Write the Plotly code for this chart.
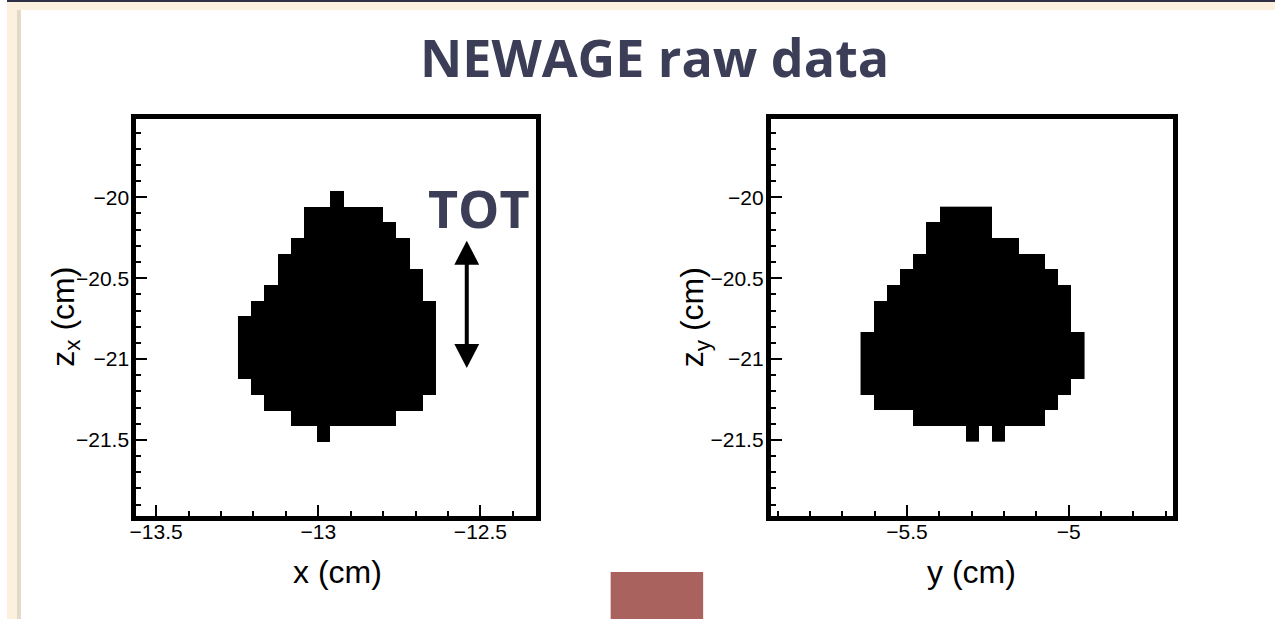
import plotly.graph_objects as go

W, H = 1275, 619

# ---------------- data: hit patterns (rows from top = highest z) ----------------
XZ_ROWS = [
    ".......#.......",
    ".....######....",
    ".....#######...",
    "....#########..",
    "...##########..",
    "...###########.",
    "..############.",
    ".##############",
    "###############",
    "###############",
    "###############",
    "###############",
    ".##############",
    "..############.",
    "....########...",
    "......#........",
]
YZ_ROWS = [
    "......####.......",
    ".....#####.......",
    ".....#######.....",
    "....##########...",
    "...############..",
    "..##############.",
    ".###############.",
    ".###############.",
    "#################",
    "#################",
    "#################",
    "################.",
    ".##############..",
    "....##########...",
    "........#.#......",
]
X_PITCH = 0.0407          # strip pitch (cm)
Z_PITCH = 0.097           # z bin (cm)
XZ_X0 = -13.2475          # lower edge of first x strip
YZ_Y0 = -5.6435           # lower edge of first y strip
XZ_ZTOP = -19.961         # upper edge of first z row (x-z image)
YZ_ZTOP = -20.058         # upper edge of first z row (y-z image)

XZ_RANGE_X = [-13.561, -12.330]
YZ_RANGE_X = [-5.921, -4.679]
Z_RANGE = [-21.967, -19.513]


def hist(rows, x0, ztop):
    nx = len(rows[0])
    xs = [x0 + X_PITCH * (i + 0.5) for i in range(nx)]
    ys, zz = [], []
    for r in reversed(range(len(rows))):
        ys.append(ztop - Z_PITCH * (r + 0.5))
        zz.append([1 if ch == "#" else None for ch in rows[r]])
    return xs, ys, zz


fig = go.Figure()
for rows, x0, ztop, xa, ya in [
    (XZ_ROWS, XZ_X0, XZ_ZTOP, "x", "y"),
    (YZ_ROWS, YZ_Y0, YZ_ZTOP, "x2", "y2"),
]:
    xs, ys, zz = hist(rows, x0, ztop)
    fig.add_trace(go.Heatmap(
        x=xs, y=ys, z=zz, xaxis=xa, yaxis=ya,
        colorscale=[[0, "black"], [1, "black"]], showscale=False,
        hoverinfo="skip", zsmooth=False,
    ))


def px(x):
    return x / W


def py(y):
    return 1 - y / H


axis_common = dict(
    showline=True, linewidth=5, linecolor="black", mirror=True,
    ticks="inside", ticklen=11, tickwidth=1.5, tickcolor="black",
    showgrid=False, zeroline=False, tick0=0, dtick=0.5,
    tickfont=dict(family="Liberation Sans, Arial", size=21, color="black"),
    minor=dict(dtick=0.1, ticks="inside", ticklen=5, tickwidth=1.5,
               tickcolor="black", showgrid=False),
    fixedrange=True,
)

yd = [py(515.5), py(118.5)]
fig.update_layout(
    width=W, height=H,
    margin=dict(l=0, r=0, t=0, b=0),
    paper_bgcolor="white", plot_bgcolor="white",
    showlegend=False,
    xaxis=dict(domain=[px(130), px(531.5)], range=XZ_RANGE_X, anchor="y",
               ticklabelstandoff=-7, **axis_common),
    yaxis=dict(domain=yd, range=Z_RANGE, anchor="x", ticklabelstandoff=-2, **axis_common),
    xaxis2=dict(domain=[px(768), px(1172)], range=YZ_RANGE_X, anchor="y2",
                ticklabelstandoff=-7, **axis_common),
    yaxis2=dict(domain=yd, range=Z_RANGE, anchor="x2", ticklabelstandoff=-2, **axis_common),
)

TXT = "#3b3e56"
lab_font = dict(family="Liberation Sans, Arial", size=32, color="black")
annos = [
    dict(text="<b>NEWAGE raw data</b>", x=px(651.5), y=py(56),
         font=dict(family="Open Sans", size=52, color=TXT)),
    dict(text="<b>TOT</b>", x=px(474.7), y=py(207),
         font=dict(family="Open Sans", size=52, color=TXT)),
    dict(text="x (cm)", x=px(332), y=py(572), font=lab_font),
    dict(text="y (cm)", x=px(970), y=py(572), font=lab_font),
    dict(text="z<sub>x</sub> (cm)", x=px(58), y=py(317), textangle=-90, font=lab_font),
    dict(text="z<sub>y</sub> (cm)", x=px(691), y=py(317), textangle=-90, font=lab_font),
]
for a in annos:
    fig.add_annotation(xref="paper", yref="paper", showarrow=False,
                       xanchor="center", yanchor="middle", **a)

shapes = [
    # slide frame decoration
    dict(type="rect", x0=0, x1=1, y0=py(10), y1=1, fillcolor="#fcf1de", line_width=0),
    dict(type="rect", x0=0, x1=px(14), y0=0, y1=1, fillcolor="#fcf1de", line_width=0),
    dict(type="rect", x0=px(10), x1=px(14), y0=0, y1=py(10), fillcolor="#e3d9c8", line_width=0),
    dict(type="rect", x0=0, x1=1, y0=py(2), y1=1, fillcolor="#2e3145", line_width=0),
    dict(type="rect", x0=px(607), x1=px(700), y0=0, y1=py(572), fillcolor="#aa625e", line_width=0),
    # double arrow
    dict(type="line", x0=px(462.3), x1=px(462.3), y0=py(262), y1=py(346),
         line=dict(color="black", width=4)),
    dict(type="path", path=f"M {px(462.3)} {py(240.7)} L {px(449.8)} {py(264.7)} L {px(474.8)} {py(264.7)} Z",
         fillcolor="black", line_width=0),
    dict(type="path", path=f"M {px(462.3)} {py(368)} L {px(449.8)} {py(344)} L {px(474.8)} {py(344)} Z",
         fillcolor="black", line_width=0),
]
for s in shapes:
    fig.add_shape(xref="paper", yref="paper", layer="above", **s)

fig.write_html("out.html")
